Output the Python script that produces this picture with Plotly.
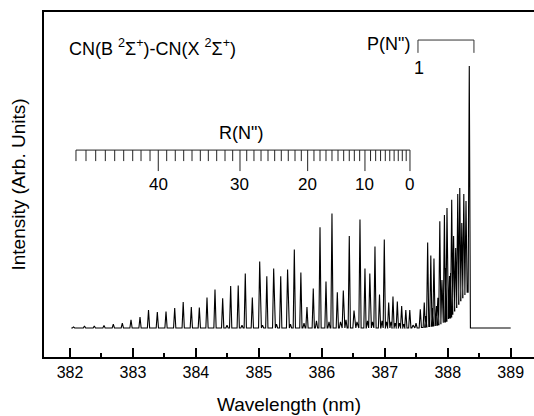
import plotly.graph_objects as go

# ---------------- data ----------------
# Main R-branch lines (nm) and intensities (arb. units, bandhead = 100)
R_PEAK_NM = [382.056, 382.230, 382.386, 382.540, 382.688, 382.831, 382.969, 383.112, 383.247, 383.387,
             383.525, 383.663, 383.798, 383.927, 384.054, 384.176, 384.303, 384.425, 384.552, 384.672,
             384.784, 384.896, 385.013, 385.126, 385.235, 385.347, 385.456, 385.563, 385.667, 385.764,
             385.864, 385.971, 386.066, 386.161, 386.246, 386.341, 386.436, 386.511, 386.606, 386.685,
             386.762, 386.844, 386.916, 386.992, 387.062, 387.130, 387.199, 387.268, 387.334, 387.397]
R_PEAK_INT = [0.4, 0.8, 0.8, 1.0, 1.5, 1.9, 3.1, 4.2, 6.9, 6.1,
              6.3, 7.6, 9.9, 8.0, 7.8, 11.6, 14.7, 11.3, 16.0, 16.2,
              20.8, 11.6, 25.4, 19.7, 22.7, 19.7, 22.3, 30.0, 21.2, 8.0,
              15.1, 38.4, 17.7, 43.7, 13.6, 14.3, 35.1, 6.7, 41.4, 22.7,
              20.8, 31.1, 12.8, 33.8, 9.7, 12.0, 10.1, 8.4, 6.9, 6.9]

# Weak satellite lines between the main R lines
SAT_NM = [384.494, 384.732, 385.058, 385.280, 385.502, 385.717, 385.915, 386.114, 386.296, 386.384,
          386.558, 386.725, 386.805, 386.956, 387.027, 387.099, 387.165, 387.234, 387.302, 387.448]
SAT_INT = [1.1, 1.1, 1.1, 1.5, 1.5, 1.9, 2.7, 2.3, 2.3, 3.1,
           2.3, 2.7, 2.3, 2.7, 2.3, 2.3, 1.9, 1.9, 1.5, 1.1]

# P-branch lines up to the bandhead, with the level of the valley on their left
P_PEAK_NM = [387.496, 387.564, 387.627, 387.651, 387.681, 387.731, 387.758, 387.781, 387.821, 387.843,
             387.874, 387.908, 387.947, 387.969, 387.988, 388.028, 388.045, 388.063,
             388.093, 388.126, 388.159, 388.191, 388.223,
             388.255, 388.290, 388.342]
P_PEAK_INT = [1.9, 7.1, 9.7, 4.6, 32.6, 27.7, 7.6, 26.5, 8.4, 11.5,
              40.7, 18.3, 43.1, 22.9, 45.8, 19.8, 21.0, 48.9,
              35.1, 30.5, 51.1, 53.4, 40.1,
              51.1, 48.5, 100.0]
P_FLOOR = [0.0, 0.0, 0.2, 0.3, 0.4, 0.6, 0.7, 0.8, 1.0, 1.1,
           1.3, 1.6, 2.0, 2.3, 2.6, 3.4, 3.8, 4.2,
           5.3, 6.5, 7.8, 9.1, 10.4,
           11.6, 12.8, 13.7]

SPEC_START, SPEC_END = 382.02, 389.0

# R(N") scale: rotational quantum number -> wavelength (nm)
R_NM = [387.400, 387.340, 387.278, 387.214, 387.148, 387.079, 387.008, 386.933, 386.855, 386.774,
        386.685, 386.601, 386.516, 386.436, 386.347, 386.257, 386.161, 386.066, 385.971, 385.875,
        385.775, 385.674, 385.574, 385.467, 385.356, 385.251, 385.145, 385.034, 384.922, 384.807,
        384.700, 384.584, 384.462, 384.330, 384.197, 384.070, 383.938, 383.806, 383.672, 383.536,
        383.402, 383.271, 383.128, 382.996, 382.853, 382.710, 382.561, 382.408, 382.254, 382.095]
R_LABELS = [0, 10, 20, 30, 40]

# P(N") bracket ends (nm)
P_SCALE_NM = [387.527, 388.416]
P_LABEL = "1"

X_TICKS = [382, 383, 384, 385, 386, 387, 388, 389]
X_MINOR = [382.5, 383.5, 384.5, 385.5, 386.5, 387.5, 388.5]

# ---------------- build spectrum polyline ----------------
W = 0.018  # half width of a line foot (style)
peaks = [(p, h, 0.0) for p, h in zip(R_PEAK_NM, R_PEAK_INT)]
peaks += [(p, h, 0.0) for p, h in zip(SAT_NM, SAT_INT)]
peaks += list(zip(P_PEAK_NM, P_PEAK_INT, P_FLOOR))
peaks.sort(key=lambda t: t[0])

xs, ys = [SPEC_START], [0.0]
for i, (p, h, f) in enumerate(peaks):
    f_next = peaks[i + 1][2] if i + 1 < len(peaks) else 0.0
    xs += [p - W, p, p + W]
    ys += [f, h, f_next]
xs.append(SPEC_END)
ys.append(0.0)

fig = go.Figure()
fig.add_trace(go.Scatter(x=xs, y=ys, mode="lines", line=dict(color="black", width=1.1),
                         hoverinfo="skip", showlegend=False))

# R scale
SCALE_Y, SHORT_Y, LONG_Y = 67.9, 63.7, 59.9
fig.add_trace(go.Scatter(x=[R_NM[-1], R_NM[0]], y=[SCALE_Y, SCALE_Y], mode="lines",
                         line=dict(color="#222", width=1), showlegend=False, hoverinfo="skip"))
tx, ty = [], []
for n, w in enumerate(R_NM):
    tx += [w, w, None]
    ty += [SCALE_Y, LONG_Y if n in R_LABELS else SHORT_Y, None]
fig.add_trace(go.Scatter(x=tx, y=ty, mode="lines", line=dict(color="#222", width=1),
                         showlegend=False, hoverinfo="skip"))

# P bracket
fig.add_trace(go.Scatter(x=[P_SCALE_NM[0], P_SCALE_NM[0], P_SCALE_NM[1], P_SCALE_NM[1]],
                         y=[105.0, 109.9, 109.9, 105.0], mode="lines",
                         line=dict(color="#333", width=1), showlegend=False, hoverinfo="skip"))

FONT = "Liberation Sans, Arial, sans-serif"
ann = []
for n in R_LABELS:
    ann.append(dict(x=R_NM[n], y=54.6, text=str(n), showarrow=False, xanchor="center",
                    yanchor="middle", font=dict(size=17, family=FONT, color="black")))
ann.append(dict(x=384.72, y=74.4, text='R(N")', showarrow=False, xanchor="center",
                yanchor="middle", font=dict(size=18, family=FONT, color="black")))
ann.append(dict(x=387.44, y=108.2, text='P(N")', showarrow=False, xanchor="right",
                yanchor="middle", font=dict(size=18, family=FONT, color="black")))
ann.append(dict(x=P_SCALE_NM[0] + 0.02, y=99.2, text=P_LABEL, showarrow=False, xanchor="center",
                yanchor="middle", font=dict(size=18, family=FONT, color="black")))
ann.append(dict(x=381.948, y=106.9, text="CN(B <sup>2</sup>Σ<sup>+</sup>)-CN(X <sup>2</sup>Σ<sup>+</sup>)",
                showarrow=False, xanchor="left", yanchor="middle",
                font=dict(size=18, family=FONT, color="black")))
ann.append(dict(xref="paper", yref="paper", x=0.5, y=-0.139, text="Wavelength (nm)",
                showarrow=False, xanchor="center", yanchor="middle",
                font=dict(size=19, family=FONT, color="black")))
ann.append(dict(xref="paper", yref="paper", x=-0.053, y=0.5, text="Intensity (Arb. Units)",
                showarrow=False, xanchor="center", yanchor="middle", textangle=-90,
                font=dict(size=19, family=FONT, color="black")))

fig.update_layout(
    width=534, height=416,
    margin=dict(l=44, r=0, t=12, b=59),
    paper_bgcolor="white", plot_bgcolor="white",
    annotations=ann,
    xaxis=dict(range=[381.587, 389.370], showline=True, linewidth=2, linecolor="black",
               mirror=True, ticks="inside", ticklen=9, tickwidth=2, tickcolor="black",
               tickmode="array", tickvals=X_TICKS, ticktext=[str(t) for t in X_TICKS],
               minor=dict(tickmode="array", tickvals=X_MINOR, ticks="inside", ticklen=4,
                          tickwidth=2, tickcolor="black", showgrid=False),
               showgrid=False, zeroline=False,
               tickfont=dict(size=16, family=FONT, color="black")),
    yaxis=dict(range=[-11.07, 120.6], showline=True, linewidth=2, linecolor="black",
               showticklabels=False, ticks="", showgrid=False, zeroline=False),
)

fig.write_html("out.html", config={"displayModeBar": False},
               post_script="document.body.style.margin='0';document.body.style.overflow='hidden';"
                           "document.documentElement.style.overflow='hidden';")
